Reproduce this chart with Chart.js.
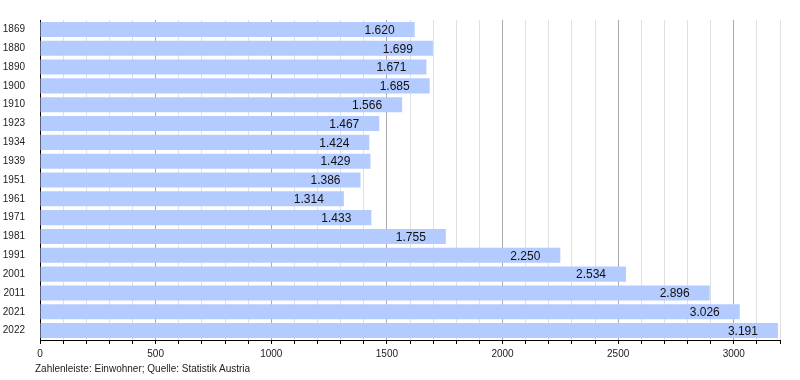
<!DOCTYPE html>
<html>
<head>
<meta charset="utf-8">
<script src="https://cdn.jsdelivr.net/npm/chart.js@4"></script>
<style>
  body { margin: 0; background: #fff; }
  #wrap { position: relative; width: 800px; height: 380px; }
  #note { position: absolute; left: 35px; top: 363px; font: 10px "Liberation Sans", Arial, sans-serif; color: #222; }
</style>
</head>
<body>
<div id="wrap">
  <canvas id="canvas" width="800" height="380"></canvas>
  <div id="note">Zahlenleiste: Einwohner; Quelle: Statistik Austria</div>
</div>
<script>
const years = ['1869', '1880', '1890', '1900', '1910', '1923', '1934', '1939', '1951', '1961', '1971', '1981', '1991', '2001', '2011', '2021', '2022'];
const population = [1620, 1699, 1671, 1685, 1566, 1467, 1424, 1429, 1386, 1314, 1433, 1755, 2250, 2534, 2896, 3026, 3191];
const axisMax = 3200;

// 1620 -> "1.620"
function formatDe(n) {
  return String(n).replace(/\B(?=(\d{3})+(?!\d))/g, '.');
}

// value text right-aligned near the end of each bar
const valueLabels = {
  id: 'valueLabels',
  afterDatasetsDraw(chart) {
    const ctx = chart.ctx;
    const meta = chart.getDatasetMeta(0);
    ctx.save();
    ctx.font = '12px "Liberation Sans", Arial, sans-serif';
    ctx.fillStyle = '#111';
    ctx.textAlign = 'right';
    ctx.textBaseline = 'middle';
    meta.data.forEach(function(bar, i) {
      ctx.fillText(formatDe(population[i]), bar.x - 20, bar.y + 1);
    });
    ctx.restore();
  }
};

var canvas = document.getElementById('canvas');
var myChart = new Chart(canvas, {
  type: 'bar',
  data: {
    labels: years,
    datasets: [{
      data: population,
      backgroundColor: '#b3cbff',
      borderWidth: 0,
      barPercentage: 0.8,
      categoryPercentage: 1
    }]
  },
  options: {
    indexAxis: 'y',
    responsive: false,
    animation: false,
    layout: { padding: { top: 20, right: 20, left: 0, bottom: 0 } },
    plugins: {
      legend: { display: false },
      tooltip: { enabled: false }
    },
    scales: {
      x: {
        min: 0,
        max: axisMax,
        afterFit: function(scale) { scale.height = 40; },
        border: { color: '#000', width: 1 },
        grid: {
          color: function(c) { return c.tick && c.tick.value % 500 === 0 ? '#aaa' : '#e0e0e0'; },
          tickColor: '#000',
          tickLength: 4,
          drawOnChartArea: true
        },
        ticks: {
          stepSize: 100,
          autoSkip: false,
          maxRotation: 0,
          padding: 4,
          color: '#222',
          font: { family: '"Liberation Sans", Arial, sans-serif', size: 10 },
          callback: function(v) { return v % 500 === 0 ? v : ''; }
        }
      },
      y: {
        afterFit: function(scale) { scale.width = 40; },
        border: { color: '#000', width: 1 },
        grid: { display: false },
        ticks: {
          padding: 7,
          color: '#222',
          font: { family: '"Liberation Sans", Arial, sans-serif', size: 10 }
        }
      }
    }
  },
  plugins: [valueLabels]
});
</script>
</body>
</html>
